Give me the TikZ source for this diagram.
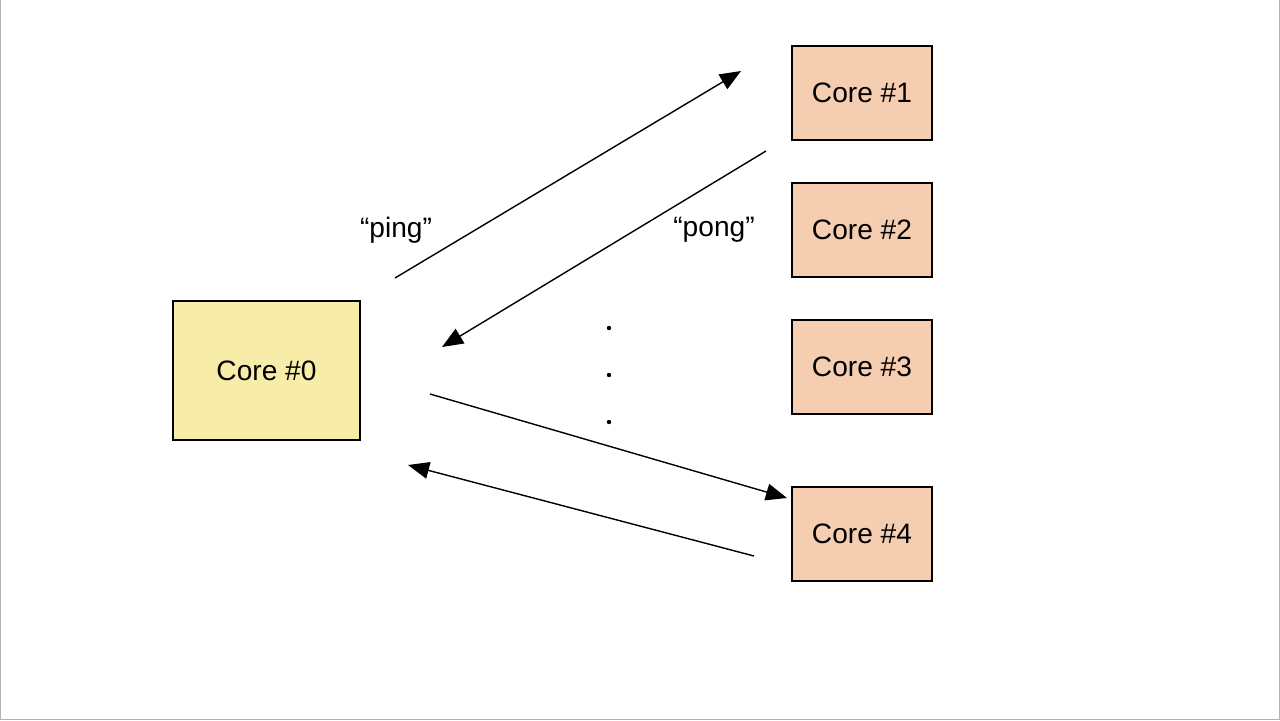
\documentclass[tikz,border=0pt]{standalone}
\usepackage{fontspec}
\setmainfont{Liberation Sans}
\usetikzlibrary{arrows.meta}
\definecolor{yel}{HTML}{F8EDA8}
\definecolor{ora}{HTML}{F5CDB0}
\begin{document}
\begin{tikzpicture}[x=0.05cm,y=-0.05cm,
  core/.style={draw,line width=2pt,minimum width=140*0.05cm,minimum height=94*0.05cm,inner sep=0pt,fill=ora,font=\fontsize{40}{46}\selectfont},
  arr/.style={line width=2pt,-{Triangle[length=30pt,width=24pt]}},
  lbl/.style={font=\fontsize{40}{46}\selectfont}]
\useasboundingbox (0,0) rectangle (1280,720);
\draw[gray!60,line width=1.5pt] (0.5,0) -- (0.5,719.5) -- (1279.5,719.5) -- (1279.5,0);
\node[core,fill=yel,minimum width=187*0.05cm,minimum height=139*0.05cm] (c0) at (266.5,370.5) {Core \#0};
\node[core] (c1) at (862,93) {Core \#1};
\node[core] (c2) at (862,230) {Core \#2};
\node[core] (c3) at (862,367) {Core \#3};
\node[core] (c4) at (862,534) {Core \#4};
\coordinate (a1) at (395,278); \coordinate (b1) at (741,71);
\coordinate (a2) at (766,151); \coordinate (b2) at (442,347);
\coordinate (a3) at (430,394); \coordinate (b3) at (787,498);
\coordinate (a4) at (754,556); \coordinate (b4) at (408,465);
\draw[arr] (a1) -- (b1);
\draw[arr] (a2) -- (b2);
\draw[arr] (a3) -- (b3);
\draw[arr] (a4) -- (b4);
\node[lbl] (ping) at (396,230) {“ping”};
\node[lbl] (pong) at (714,230) {“pong”};
\foreach \y/\n in {328/d1,375/d2,422/d3} \fill (609,\y) circle (2.2);
\end{tikzpicture}
\end{document}
